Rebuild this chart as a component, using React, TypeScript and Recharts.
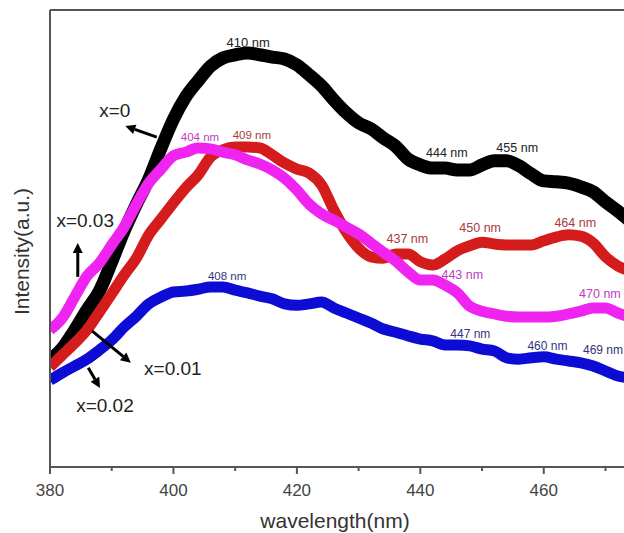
import { LineChart, Line, XAxis, YAxis, ReferenceLine, ReferenceDot } from 'recharts'

// wavelength grid (nm)
const wavelength = [
  380, 382, 384, 386, 388, 390, 392, 394, 396, 398, 400, 402, 404, 406, 408, 410,
  412, 414, 416, 418, 420, 422, 424, 426, 428, 430, 432, 434, 436, 438, 440, 442,
  444, 446, 448, 450, 452, 454, 456, 458, 460, 462, 464, 466, 468, 470, 472, 474,
]

// intensity (a.u.)
const x0 = [
  23.4, 26.0, 30.0, 34.4, 38.5, 44.9, 51.6, 57.5, 63.0, 69.8, 76.1, 81.0, 84.5, 87.7, 89.5, 90.2,
  90.6, 90.2, 89.7, 89.3, 88.0, 85.8, 83.4, 80.3, 77.5, 75.3, 74.0, 72.0, 70.2, 67.4, 66.1, 65.4,
  65.4, 65.0, 65.0, 66.1, 67.0, 67.0, 65.9, 64.1, 62.6, 62.4, 62.1, 61.3, 60.2, 58.0, 56.0, 53.8,
]
const x001 = [
  21.9, 24.5, 27.1, 30.0, 33.9, 37.9, 42.0, 45.7, 50.8, 54.3, 57.8, 61.1, 63.9, 67.8, 69.4, 70.0,
  70.0, 69.8, 68.3, 66.5, 65.2, 64.3, 61.7, 56.2, 51.4, 47.9, 46.0, 45.7, 46.6, 46.6, 44.9, 44.2,
  45.5, 47.3, 48.4, 49.2, 48.8, 48.6, 48.6, 48.6, 49.5, 50.3, 50.8, 50.5, 49.0, 46.0, 44.0, 42.9,
]
const x002 = [
  19.0, 20.6, 22.1, 23.6, 25.6, 27.8, 30.6, 33.0, 35.7, 37.2, 38.3, 38.5, 38.9, 39.4, 39.4, 38.7,
  38.1, 37.4, 36.8, 35.7, 35.4, 35.7, 36.1, 34.8, 33.7, 32.6, 31.5, 30.2, 29.5, 28.7, 28.0, 27.6,
  26.7, 26.7, 26.5, 25.8, 25.4, 23.9, 23.6, 23.9, 24.1, 23.6, 23.2, 22.8, 22.1, 21.0, 19.9, 19.5,
]
const x003 = [
  30.0, 32.6, 37.2, 41.8, 44.6, 48.6, 52.5, 57.5, 62.1, 65.2, 68.1, 68.9, 69.8, 69.6, 68.9, 68.3,
  67.2, 66.3, 65.0, 63.2, 60.6, 57.5, 55.4, 54.0, 52.5, 51.0, 49.0, 47.0, 45.1, 42.7, 40.9, 40.9,
  39.8, 38.1, 35.2, 34.1, 33.5, 33.0, 32.8, 32.8, 32.8, 33.0, 33.5, 34.1, 34.8, 34.8, 33.7, 32.8,
]

const majorTicks = [380, 400, 420, 440, 460]
const allTicks = [380, 390, 400, 410, 420, 430, 440, 450, 460, 470]

const data = wavelength.map((w, i) => ({ w, a: x0[i], b: x001[i], c: x002[i], d: x003[i] }))

// peak annotations
const peaks = [
  { w: 412.1, v: 93.0, t: '410 nm', c: '#222', s: 13 },
  { w: 404.3, v: 72.2, t: '404 nm', c: '#c03cc0', s: 11.5 },
  { w: 412.7, v: 72.6, t: '409 nm', c: '#a83a3a', s: 11.5 },
  { w: 444.3, v: 68.7, t: '444 nm', c: '#222', s: 12.5 },
  { w: 455.7, v: 69.8, t: '455 nm', c: '#222', s: 12.5 },
  { w: 437.9, v: 49.9, t: '437 nm', c: '#a83a3a', s: 12.5 },
  { w: 449.7, v: 52.3, t: '450 nm', c: '#a83a3a', s: 12.5 },
  { w: 465.1, v: 53.4, t: '464 nm', c: '#a83a3a', s: 12.5 },
  { w: 446.8, v: 42.2, t: '443 nm', c: '#c03cc0', s: 12.5 },
  { w: 469.1, v: 37.9, t: '470 nm', c: '#c03cc0', s: 12.5 },
  { w: 408.7, v: 41.8, t: '408 nm', c: '#34347a', s: 11.5 },
  { w: 448.1, v: 29.1, t: '447 nm', c: '#34347a', s: 12 },
  { w: 460.6, v: 26.5, t: '460 nm', c: '#34347a', s: 12 },
  { w: 469.6, v: 25.6, t: '469 nm', c: '#34347a', s: 12 },
]

const seriesLabels = [
  { w: 390.5, v: 78.1, t: 'x=0' },
  { w: 385.7, v: 54.0, t: 'x=0.03' },
  { w: 399.9, v: 21.7, t: 'x=0.01' },
  { w: 388.9, v: 13.6, t: 'x=0.02' },
]

const arrows = [
  [{ x: 397.3, y: 72.2 }, { x: 392.2, y: 74.6 }],
  [{ x: 384.5, y: 41.6 }, { x: 384.5, y: 49.0 }],
  [{ x: 386.8, y: 29.8 }, { x: 393.1, y: 22.8 }],
  [{ x: 386.2, y: 21.7 }, { x: 388.1, y: 17.3 }],
]

function Arrow(props: any) {
  const { x1, y1, x2, y2 } = props
  const ang = Math.atan2(y2 - y1, x2 - x1)
  const L = 10, W = 5
  const bx = x2 - L * Math.cos(ang), by = y2 - L * Math.sin(ang)
  const px = -Math.sin(ang) * W, py = Math.cos(ang) * W
  return (
    <g>
      <line x1={x1} y1={y1} x2={bx} y2={by} stroke="#000" strokeWidth={3} />
      <polygon points={`${x2},${y2} ${bx + px},${by + py} ${bx - px},${by - py}`} fill="#000" />
    </g>
  )
}

function XTick({ x, y, payload }: any) {
  const major = majorTicks.includes(payload.value)
  return (
    <g>
      <line x1={x} y1={y} x2={x} y2={y + (major ? 7 : 4)} stroke="#555" strokeWidth={2} />
      {major && (
        <text x={x} y={y + 29} textAnchor="middle" fill="#444" fontSize={17}>{payload.value}</text>
      )}
    </g>
  )
}

export default function App() {
  return (
    <div style={{ fontFamily: 'Arial, "Liberation Sans", sans-serif' }}>
      <style>{'body{margin:0}'}</style>
      <LineChart width={624} height={533} data={data} margin={{ top: 10, right: 0, bottom: 0, left: 0 }}>
        <XAxis
          dataKey="w"
          type="number"
          domain={[380, 473]}
          allowDataOverflow
          ticks={allTicks}
          tick={<XTick />}
          tickLine={false}
          tickSize={0}
          tickMargin={0}
          axisLine={{ stroke: '#555', strokeWidth: 2 }}
          height={66}
          label={{ value: 'wavelength(nm)', position: 'insideBottom', offset: 5, dx: -2, fill: '#333', fontSize: 21 }}
        />
        <YAxis
          type="number"
          domain={[0, 100]}
          tick={false}
          tickLine={false}
          axisLine={{ stroke: '#555', strokeWidth: 2 }}
          width={50}
          label={{ value: 'Intensity(a.u.)', angle: -90, position: 'center', dx: -3, dy: 13, fill: '#333', fontSize: 21 }}
        />
        <ReferenceLine y={100} stroke="#555" strokeWidth={2} />
        <Line dataKey="a" type="monotone" stroke="#000" strokeWidth={13} dot={false} activeDot={false} isAnimationActive={false} />
        <Line dataKey="b" type="monotone" stroke="#d41c1c" strokeWidth={11} dot={false} activeDot={false} isAnimationActive={false} />
        <Line dataKey="d" type="monotone" stroke="#f024f0" strokeWidth={11} dot={false} activeDot={false} isAnimationActive={false} />
        <Line dataKey="c" type="monotone" stroke="#0c0cd4" strokeWidth={11} dot={false} activeDot={false} isAnimationActive={false} />
        {arrows.map((seg, i) => (
          <ReferenceLine key={'ar' + i} segment={seg} ifOverflow="visible" shape={Arrow} />
        ))}
        {peaks.map((p) => (
          <ReferenceDot
            key={p.t + p.w}
            x={p.w}
            y={p.v}
            r={0}
            fill="none"
            stroke="none"
            ifOverflow="visible"
            label={{ value: p.t, position: 'center', fill: p.c, fontSize: p.s }}
          />
        ))}
        {seriesLabels.map((s) => (
          <ReferenceDot
            key={s.t}
            x={s.w}
            y={s.v}
            r={0}
            fill="none"
            stroke="none"
            ifOverflow="visible"
            label={{ value: s.t, position: 'center', fill: '#222', fontSize: 19 }}
          />
        ))}
      </LineChart>
    </div>
  )
}
